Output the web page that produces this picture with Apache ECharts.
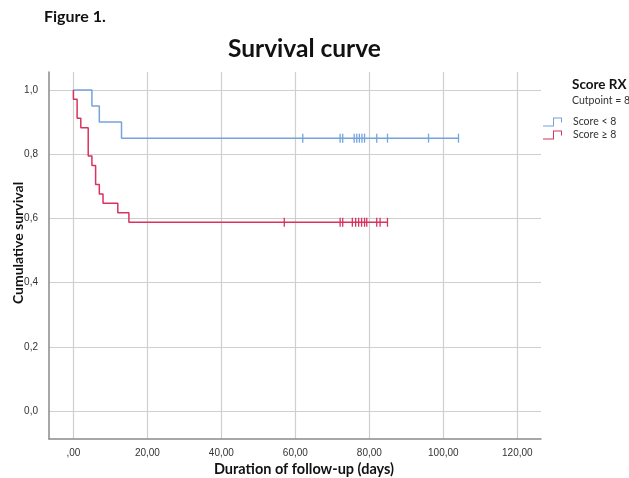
<!DOCTYPE html>
<html><head><meta charset="utf-8">
<script src="https://cdn.jsdelivr.net/npm/echarts@6/dist/echarts.min.js"></script>
<style>html,body{margin:0;padding:0;background:#fff}#c{width:629px;height:478px}</style>
</head><body><div id="c"></div>
<script>
// ---- data ----
var xTicks = [0, 20, 40, 60, 80, 100, 120];
var yTicks = [0, 0.2, 0.4, 0.6, 0.8, 1.0];
var groupNames = ['Score < 8', 'Score \u2265 8'];
// Score < 8
var lowTimes = [0, 5, 7, 13, 104.1];
var lowSurv = [1.0, 0.95, 0.90, 0.85, 0.85];
var lowCensor = [62.0, 72.1, 72.8, 75.9, 76.6, 77.3, 78.0, 78.7, 82.0, 84.9, 96.0, 104.1];
// Score >= 8
var highTimes = [0, 0, 1, 2, 4, 5, 6, 7, 8, 12, 15, 84.9];
var highSurv = [1.0, 0.971, 0.912, 0.882, 0.794, 0.765, 0.706, 0.676, 0.647, 0.618, 0.588, 0.588];
var highCensor = [57.0, 72.1, 72.8, 75.4, 76.3, 77.1, 77.9, 78.7, 79.3, 82.0, 82.9, 84.9];

var BLUE = '#74a3de', RED = '#d9325e';

function pairs(t, s) { return t.map(function (v, i) { return [v, s[i]]; }); }
function survAt(t, s, x) { var r = s[0]; for (var i = 0; i < t.length; i++) { if (t[i] <= x) r = s[i]; } return r; }
function censorPts(c, t, s) { return c.map(function (x) { return [x, survAt(t, s, x)]; }); }

var chart = echarts.init(document.getElementById('c'), null, {renderer: 'canvas'});
var AX = 'Liberation Sans, Arial, sans-serif';
var LATO = 'Lato, sans-serif';
chart.setOption({
  animation: false,
  backgroundColor: '#fff',
  title: [
    {text: 'Figure 1.', left: 44, top: 9, padding: 0, textStyle: {fontFamily: LATO, fontSize: 16, fontWeight: 'bold', color: '#111'}},
    {text: 'Survival curve', left: 228, top: 37, padding: 0, textStyle: {fontFamily: LATO, fontSize: 24.5, fontWeight: 'bold', color: '#111'}}
  ],
  graphic: [
    {type: 'text', left: 572, top: 78, style: {text: 'Score RX', font: 'bold 13.5px ' + LATO, fill: '#111'}},
    {type: 'text', left: 572, top: 95, style: {text: 'Cutpoint = 8', font: '10.5px ' + LATO, fill: '#333'}},
    {type: 'text', x: 304, y: 462, style: {text: 'Duration of follow-up (days)', font: 'bold 14.5px ' + LATO, fill: '#111', align: 'center', verticalAlign: 'top'}},
    {type: 'text', x: 18, y: 243, rotation: Math.PI / 2, style: {text: 'Cumulative survival', font: 'bold 14px ' + LATO, fill: '#111', align: 'center', verticalAlign: 'middle'}}
  ],
  legend: {
    left: 543, top: 116, orient: 'vertical', itemWidth: 19, itemHeight: 9, itemGap: 1, padding: 0,
    data: [
      {name: groupNames[0], icon: 'path://M0,8 L10,8 L10,0 L19,0 L19,5 L18,5 L18,1 L11,1 L11,9 L0,9 Z'},
      {name: groupNames[1], icon: 'path://M0,8 L10,8 L10,0 L19,0 L19,5 L18,5 L18,1 L11,1 L11,9 L0,9 Z'}
    ],
    textStyle: {fontFamily: LATO, fontSize: 10.5, color: '#333', lineHeight: 12, padding: [0, 0, 0, 6]}
  },
  grid: {left: 49, right: 88, top: 72, bottom: 39, containLabel: false, outerBoundsMode: 'none'},
  xAxis: {
    type: 'value', min: -6.6, max: 126.4,
    axisLine: {show: true, onZero: false, lineStyle: {color: '#8a8a8a', width: 1.5}},
    axisTick: {show: false, customValues: xTicks},
    axisLabel: {customValues: xTicks, margin: 9, fontFamily: AX, fontSize: 10, color: '#333',
      formatter: function (v) { return v === 0 ? ',00' : v.toFixed(2).replace('.', ','); }},
    splitLine: {show: true, lineStyle: {color: '#cfcfcf', width: 1.2}}
  },
  yAxis: {
    type: 'value', min: -0.087, max: 1.056,
    axisLine: {show: true, onZero: false, lineStyle: {color: '#8a8a8a', width: 1.5}},
    axisTick: {show: false, customValues: yTicks},
    axisLabel: {customValues: yTicks, margin: 11, fontFamily: AX, fontSize: 10, color: '#333',
      formatter: function (v) { return v.toFixed(1).replace('.', ','); }},
    splitLine: {show: true, lineStyle: {color: '#cfcfcf', width: 1.2}}
  },
  series: [
    {name: groupNames[0], type: 'line', step: 'end', showSymbol: false, data: pairs(lowTimes, lowSurv),
      lineStyle: {color: BLUE, width: 1.5}, itemStyle: {color: BLUE}},
    {name: groupNames[1], type: 'line', step: 'end', showSymbol: false, data: pairs(highTimes, highSurv),
      lineStyle: {color: RED, width: 1.5}, itemStyle: {color: RED}},
    {name: 'c1', type: 'scatter', symbol: 'rect', symbolSize: [1.3, 9], data: censorPts(lowCensor, lowTimes, lowSurv),
      itemStyle: {color: BLUE, opacity: 1}},
    {name: 'c2', type: 'scatter', symbol: 'rect', symbolSize: [1.3, 9], data: censorPts(highCensor, highTimes, highSurv),
      itemStyle: {color: RED, opacity: 1}}
  ]
});
</script></body></html>
